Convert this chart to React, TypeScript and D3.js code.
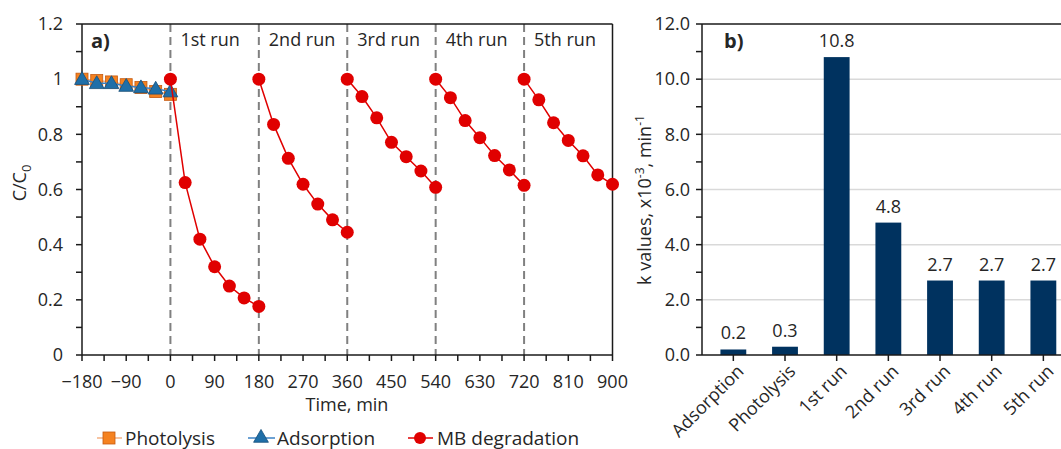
import React from "react";
import * as d3 from "d3";

// ---- data ----
const preTimes = [-180, -150, -120, -90, -60, -30, 0];
const photolysis = [1.0, 0.995, 0.99, 0.98, 0.97, 0.955, 0.945];
const adsorption = [1.0, 0.985, 0.985, 0.975, 0.97, 0.965, 0.955];

const runStarts = [0, 180, 360, 540, 720];
const runOffsets = [0, 30, 60, 90, 120, 150, 180];
const run1 = [1.0, 0.625, 0.42, 0.32, 0.25, 0.207, 0.176];
const run2 = [1.0, 0.836, 0.713, 0.619, 0.547, 0.49, 0.445];
const run3 = [1.0, 0.937, 0.86, 0.771, 0.719, 0.667, 0.608];
const run4 = [1.0, 0.933, 0.85, 0.788, 0.723, 0.671, 0.615];
const run5 = [1.0, 0.925, 0.842, 0.778, 0.722, 0.653, 0.619];
const runs = [run1, run2, run3, run4, run5];
const runLabels = ["1st run", "2nd run", "3rd run", "4th run", "5th run"];

const xTickLabels = [-180, -90, 0, 90, 180, 270, 360, 450, 540, 630, 720, 810, 900];
const yTickLabels = [0, 0.2, 0.4, 0.6, 0.8, 1, 1.2];

const kCategories = ["Adsorption", "Photolysis", "1st run", "2nd run", "3rd run", "4th run", "5th run"];
const kValues = [0.2, 0.3, 10.8, 4.8, 2.7, 2.7, 2.7];
const kTicks = [0, 2, 4, 6, 8, 10, 12];

const FONT = "'Open Sans', 'Noto Sans', sans-serif";
const TXT = "#262626";
const AX = "#1a1a1a";

const W = 1061;
const H = 449;

const x = d3.scaleLinear().domain([-180, 900]).range([82, 612.5]);
const y = d3.scaleLinear().domain([0, 1.2]).range([355, 24]);

const xb = d3
  .scaleBand()
  .domain(kCategories)
  .range([707.5, 1069.2])
  .paddingInner(0.5)
  .paddingOuter(0.25);
const yb = d3.scaleLinear().domain([0, 12]).range([355, 24]);
const bx0 = 702;

const line = d3
  .line<[number, number]>()
  .x((d) => x(d[0]))
  .y((d) => y(d[1]));

const tri = d3.symbol().type(d3.symbolTriangle).size(95)();

function Legend() {
  const cy = 438;
  return (
    <g fontFamily={FONT} fontSize={19} fill={TXT}>
      <line x1={97} x2={122} y1={cy} y2={cy} stroke="#f4b183" strokeWidth={1.5} />
      <rect x={103} y={cy - 6} width={12} height={12} fill="#f58220" stroke="#c55a11" strokeWidth={0.8} />
      <text x={125} y={cy + 7}>Photolysis</text>
      <line x1={248} x2={275} y1={cy} y2={cy} stroke="#3b82c4" strokeWidth={1.5} />
      <path d={tri!} transform={`translate(261,${cy})`} fill="#1f6fa8" stroke="#174f7a" strokeWidth={0.8} />
      <text x={277} y={cy + 7}>Adsorption</text>
      <line x1={408} x2={433} y1={cy} y2={cy} stroke="#e00000" strokeWidth={1.5} />
      <circle cx={420} cy={cy} r={6} fill="#e00000" />
      <text x={437} y={cy + 7}>MB degradation</text>
    </g>
  );
}

function PanelA() {
  const yMinor = d3.range(0, 1.2001, 0.1);
  const xMinor = d3.range(-180, 900.1, 45);
  const phot: [number, number][] = preTimes.map((t, i) => [t, photolysis[i]]);
  const ads: [number, number][] = preTimes.map((t, i) => [t, adsorption[i]]);
  return (
    <g>
      {/* dashed run separators */}
      {runStarts.map((t) => (
        <line key={t} x1={x(t)} x2={x(t)} y1={y(1.2)} y2={y(0)} stroke="#808080" strokeWidth={2} strokeDasharray="8,5" />
      ))}
      {runStarts.map((t, i) => (
        <text key={"l" + t} x={x(t) + 10} y={46} fontFamily={FONT} fontSize={18} fill={TXT}>
          {runLabels[i]}
        </text>
      ))}
      {/* frame */}
      <line x1={x(-180)} x2={x(900)} y1={y(1.2)} y2={y(1.2)} stroke={AX} strokeWidth={1.5} />
      <line x1={x(900)} x2={x(900)} y1={y(1.2)} y2={y(0)} stroke={AX} strokeWidth={1.5} />
      <line x1={x(-180)} x2={x(-180)} y1={y(1.2)} y2={y(0)} stroke={AX} strokeWidth={1.5} />
      <line x1={x(-180)} x2={x(900)} y1={y(0)} y2={y(0)} stroke={AX} strokeWidth={1.5} />
      {yMinor.map((v) => (
        <line key={"yt" + v} x1={x(-180) - 6} x2={x(-180)} y1={y(v)} y2={y(v)} stroke={AX} strokeWidth={1.5} />
      ))}
      {xMinor.map((v) => (
        <line key={"xt" + v} x1={x(v)} x2={x(v)} y1={y(0)} y2={y(0) + 6} stroke={AX} strokeWidth={1.5} />
      ))}
      <g fontFamily={FONT} fontSize={18} fill={TXT}>
        {yTickLabels.map((v) => (
          <text key={"yl" + v} x={x(-180) - 19} y={y(v)} dy="0.35em" textAnchor="end">
            {v === 0 || v === 1 ? String(v) : v.toFixed(1)}
          </text>
        ))}
        {xTickLabels.map((v) => (
          <text key={"xl" + v} x={x(v)} y={388} textAnchor="middle">
            {v < 0 ? "\u2212" + Math.abs(v) : String(v)}
          </text>
        ))}
        <text x={347} y={411} textAnchor="middle">Time, min</text>
        <text transform="translate(26,183) rotate(-90)" textAnchor="middle">
          C/C<tspan fontSize={13} dy={5}>0</tspan>
        </text>
      </g>
      <text x={91} y={48} fontFamily={FONT} fontSize={20} fontWeight="bold" fill={TXT}>a)</text>
      {/* photolysis */}
      <path d={line(phot)!} fill="none" stroke="#f4b183" strokeWidth={1.5} />
      {phot.map((d, i) => (
        <rect key={"p" + i} x={x(d[0]) - 6} y={y(d[1]) - 6} width={12} height={12} fill="#f58220" stroke="#c55a11" strokeWidth={0.8} />
      ))}
      {/* adsorption */}
      <path d={line(ads)!} fill="none" stroke="#3b82c4" strokeWidth={1.5} />
      {ads.map((d, i) => (
        <path key={"a" + i} d={tri!} transform={`translate(${x(d[0])},${y(d[1]) + 1})`} fill="#1f6fa8" stroke="#174f7a" strokeWidth={0.8} />
      ))}
      {/* MB degradation runs */}
      {runs.map((r, k) => {
        const pts: [number, number][] = r.map((v, i) => [runStarts[k] + runOffsets[i], v]);
        return (
          <g key={"run" + k}>
            <path d={line(pts)!} fill="none" stroke="#e00000" strokeWidth={1.5} />
            {pts.map((d, i) => (
              <circle key={i} cx={x(d[0])} cy={y(d[1])} r={6.5} fill="#e00000" />
            ))}
          </g>
        );
      })}
    </g>
  );
}

function PanelB() {
  const minor = d3.range(0, 12.01, 1);
  return (
    <g>
      {kTicks.slice(1, -1).map((v) => (
        <line key={"g" + v} x1={bx0} x2={W} y1={yb(v)} y2={yb(v)} stroke="#d9d9d9" strokeWidth={1.5} />
      ))}
      <line x1={bx0} x2={W} y1={yb(12)} y2={yb(12)} stroke={AX} strokeWidth={1.5} />
      {kCategories.map((c, i) => (
        <rect key={c} x={xb(c)} y={yb(kValues[i])} width={xb.bandwidth()} height={yb(0) - yb(kValues[i])} fill="#00325f" />
      ))}
      <line x1={bx0} x2={W} y1={yb(0)} y2={yb(0)} stroke={AX} strokeWidth={1.5} />
      <line x1={bx0} x2={bx0} y1={yb(0)} y2={yb(12)} stroke={AX} strokeWidth={1.5} />
      {minor.map((v) => (
        <line key={"t" + v} x1={bx0 - 6} x2={bx0} y1={yb(v)} y2={yb(v)} stroke={AX} strokeWidth={1.5} />
      ))}
      {kCategories.map((c) => (
        <line key={"xt" + c} x1={xb(c)! + xb.bandwidth() / 2} x2={xb(c)! + xb.bandwidth() / 2} y1={yb(0)} y2={yb(0) + 6} stroke={AX} strokeWidth={1.5} />
      ))}
      <g fontFamily={FONT} fontSize={18} fill={TXT}>
        {kTicks.map((v) => (
          <text key={"yl" + v} x={bx0 - 12} y={yb(v)} dy="0.35em" textAnchor="end">
            {v.toFixed(1)}
          </text>
        ))}
        {kCategories.map((c, i) => (
          <text key={"v" + c} x={xb(c)! + xb.bandwidth() / 2} y={yb(kValues[i]) - 10} textAnchor="middle">
            {kValues[i].toFixed(1)}
          </text>
        ))}
        {kCategories.map((c) => (
          <text
            key={"xl" + c}
            transform={`translate(${xb(c)! + xb.bandwidth() / 2 + 7},${368}) rotate(-45)`}
            textAnchor="end"
            dy="0.35em"
          >
            {c}
          </text>
        ))}
        <text transform="translate(651,200) rotate(-90)" textAnchor="middle">
          k values, x10<tspan fontSize={12} dy={-7}>-3</tspan>
          <tspan dy={7}>, min</tspan>
          <tspan fontSize={12} dy={-7}>-1</tspan>
        </text>
      </g>
      <text x={724} y={48} fontFamily={FONT} fontSize={20} fontWeight="bold" fill={TXT}>b)</text>
    </g>
  );
}

export default function App() {
  return (
    <svg width={W} height={H} style={{ position: "absolute", left: 0, top: 0, background: "#fff" }}>
      <rect width={W} height={H} fill="#fff" />
      <PanelA />
      <PanelB />
      <Legend />
    </svg>
  );
}
